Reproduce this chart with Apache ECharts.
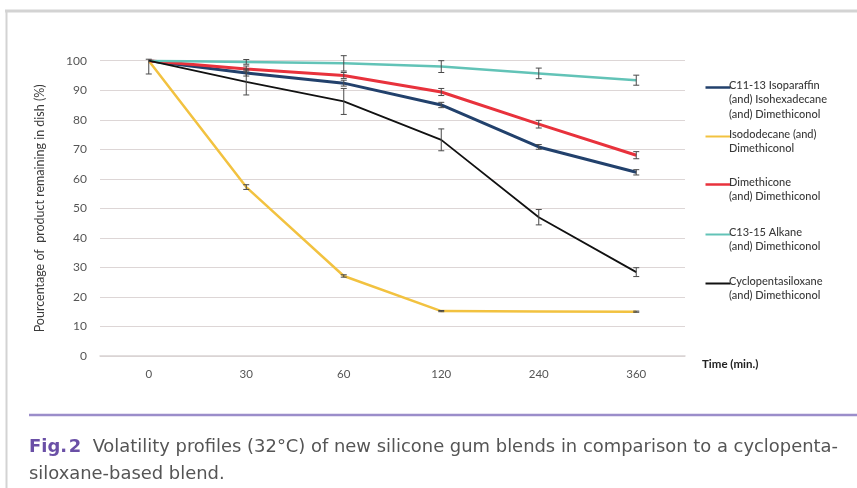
<!DOCTYPE html>
<html>
<head>
<meta charset="utf-8">
<script src="https://cdn.jsdelivr.net/npm/echarts@6/dist/echarts.min.js"></script>
<style>
html,body{margin:0;padding:0;background:#fff;}
#chart{width:857px;height:488px;}
</style>
</head>
<body>
<div id="chart"></div>
<script>
// ---- data ----
const categories = ['0', '30', '60', '120', '240', '360'];
const yTicks = [0, 10, 20, 30, 40, 50, 60, 70, 80, 90, 100];

const c1113Name = 'C11-13 Isoparaffin\n(and) Isohexadecane\n(and) Dimethiconol';
const c1113Values = [100, 95.8, 92.4, 85.0, 70.8, 62.2];
const c1113Err = [0, 1, 1, 0.9, 0.8, 0.9];

const isododecaneName = 'Isododecane (and)\nDimethiconol';
const isododecaneValues = [100, 57.2, 27.1, 15.2, 15.1, 15.0];
const isododecaneErr = [[4.5, 0.5], 0.8, 0.4, 0.2, 0, 0.2];

const dimethiconeName = 'Dimethicone\n(and) Dimethiconol';
const dimethiconeValues = [100, 97.2, 95.0, 89.4, 78.5, 68.0];
const dimethiconeErr = [0, 1, 1, 1.2, 1.3, 1.2];

const c1315Name = 'C13-15 Alkane\n(and) Dimethiconol';
const c1315Values = [100, 99.6, 99.1, 98.0, 95.7, 93.4];
const c1315Err = [0, 0.8, 2.6, 2, 1.8, 1.7];

const cycloName = 'Cyclopentasiloxane\n(and) Dimethiconol';
const cycloValues = [100, 92.8, 86.2, 73.2, 47.0, 28.4];
const cycloErr = [0, 4.4, 4.4, 3.7, 2.6, 1.5];

const yAxisTitle = 'Pourcentage of  product remaining in dish (%)';
const xAxisTitle = 'Time (min.)';
const captionFig = 'Fig.\u200a2';
const captionLine1 = 'Volatility profiles (32°C) of new silicone gum blends in comparison to a cyclopenta-';
const captionLine2 = 'siloxane-based blend.';

// ---- styling (not data) ----
const seriesDefs = [
  {name: c1113Name, values: c1113Values, err: c1113Err, color: '#22416c', width: 3},
  {name: isododecaneName, values: isododecaneValues, err: isododecaneErr, color: '#f2c240', width: 2.5},
  {name: dimethiconeName, values: dimethiconeValues, err: dimethiconeErr, color: '#e8323c', width: 3},
  {name: c1315Name, values: c1315Values, err: c1315Err, color: '#62c3b7', width: 2.5},
  {name: cycloName, values: cycloValues, err: cycloErr, color: '#111111', width: 1.8}
];

const FONT = 'Lato, "Open Sans", sans-serif';
const CAPFONT = '"DejaVu Sans Condensed", "Liberation Sans Narrow", "Noto Sans", sans-serif';

const chart = echarts.init(document.getElementById('chart'));

// error bar data
const errData = [];
seriesDefs.forEach(s => {
  s.values.forEach((v, i) => {
    const e = s.err[i];
    let lo, hi;
    if (Array.isArray(e)) { lo = v - e[0]; hi = v + e[1]; }
    else { lo = v - e; hi = v + e; }
    if (hi - lo > 0.05) errData.push([i, lo, hi]);
  });
});

const series = seriesDefs.map(s => ({
  type: 'line',
  name: s.name,
  data: s.values,
  symbol: 'none',
  smooth: false,
  lineStyle: {color: s.color, width: s.width},
  itemStyle: {color: s.color},
  z: 2,
  animation: false
}));

series.push({
  type: 'custom',
  name: 'errors',
  data: errData,
  z: 5,
  animation: false,
  renderItem: function (params, api) {
    const lo = api.coord([api.value(0), api.value(1)]);
    const hi = api.coord([api.value(0), api.value(2)]);
    const cap = 3;
    const st = {stroke: '#4a4a4a', lineWidth: 1};
    return {
      type: 'group',
      children: [
        {type: 'line', shape: {x1: lo[0], y1: lo[1], x2: hi[0], y2: hi[1]}, style: st},
        {type: 'line', shape: {x1: lo[0] - cap, y1: lo[1], x2: lo[0] + cap, y2: lo[1]}, style: st},
        {type: 'line', shape: {x1: hi[0] - cap, y1: hi[1], x2: hi[0] + cap, y2: hi[1]}, style: st}
      ]
    };
  }
});

// legend via graphic
const legendTops = [86, 135, 183, 233, 282];
const graphics = [];
seriesDefs.forEach((s, k) => {
  const y = legendTops[k];
  graphics.push({
    type: 'line', left: 703, top: y - 1,
    shape: {x1: 0, y1: 0, x2: 25, y2: 0},
    style: {stroke: s.color, lineWidth: Math.max(2, s.width - 0.5)}
  });
  graphics.push({
    type: 'text', left: 729, top: y - 8,
    style: {text: s.name, font: '500 11px ' + FONT, fill: '#3a3a3a', lineHeight: 14.5}
  });
});

// x axis title
graphics.push({
  type: 'text', left: 702, top: 358,
  style: {text: xAxisTitle, font: 'bold 11.5px ' + FONT, fill: '#222'}
});

// frame
graphics.push({type: 'line', shape: {x1: 5, y1: 11, x2: 857, y2: 11}, style: {stroke: '#d3d3d3', lineWidth: 3}});
graphics.push({type: 'line', shape: {x1: 6.5, y1: 10, x2: 6.5, y2: 488}, style: {stroke: '#d3d3d3', lineWidth: 2}});
// purple rule
graphics.push({type: 'line', shape: {x1: 29, y1: 415, x2: 857, y2: 415}, style: {stroke: '#9b8dca', lineWidth: 2.5}});
// caption
graphics.push({
  type: 'text', x: 29, y: 434, scaleX: 1.138, scaleY: 1,
  style: {
    text: '{f|' + captionFig + '}  ' + captionLine1 + '\n' + captionLine2,
    font: '17.5px ' + CAPFONT, fill: '#555', lineHeight: 27,
    rich: {f: {font: 'bold 17.5px ' + CAPFONT, fill: '#6a4fa6', lineHeight: 27}}
  }
});

chart.setOption({
  backgroundColor: '#fff',
  animation: false,
  grid: {left: 100, right: 172, top: 60.7, bottom: 132, containLabel: false},
  xAxis: {
    type: 'category',
    data: categories,
    boundaryGap: true,
    axisLine: {show: true, lineStyle: {color: '#d9d4d4', width: 1.5}},
    axisTick: {show: false},
    axisLabel: {color: '#555', fontSize: 11.5, fontFamily: FONT, margin: 12},
    splitLine: {show: false}
  },
  yAxis: {
    type: 'value',
    min: yTicks[0], max: yTicks[yTicks.length - 1], interval: yTicks[1] - yTicks[0],
    name: yAxisTitle,
    nameLocation: 'middle',
    nameGap: 54,
    nameTextStyle: {color: '#3a3a3a', fontSize: 12.5, fontFamily: FONT},
    axisLine: {show: false},
    axisTick: {show: false},
    axisLabel: {color: '#555', fontSize: 12, fontFamily: FONT, margin: 13},
    splitLine: {lineStyle: {color: '#ddd6d6', width: 1.2}}
  },
  series: series,
  graphic: graphics
});
</script>
</body>
</html>
